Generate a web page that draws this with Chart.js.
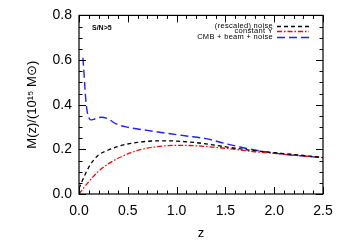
<!DOCTYPE html>
<html>
<head>
<meta charset="utf-8">
<script src="https://cdn.jsdelivr.net/npm/chart.js@4"></script>
<style>
  html, body { margin: 0; padding: 0; background: #fff; }
  #wrap { width: 350px; height: 250px; }
</style>
</head>
<body>
<div id="wrap"><canvas id="chart-mass" width="350" height="250"></canvas></div>
<script>
// redshift grid for the two lower curves
var zGrid = [0, 0.05, 0.1, 0.15, 0.2, 0.3, 0.4, 0.5, 0.6, 0.7, 0.8, 0.9, 1.0, 1.2, 1.4, 1.6, 1.8, 2.0, 2.2, 2.5];
var noiseMass  = [0.025, 0.075, 0.12, 0.152, 0.175, 0.197, 0.213, 0.224, 0.231, 0.236, 0.238, 0.238, 0.237, 0.230, 0.218, 0.205, 0.194, 0.185, 0.177, 0.163];
var constYMass = [0.0, 0.028, 0.055, 0.08, 0.102, 0.135, 0.16, 0.18, 0.195, 0.205, 0.212, 0.216, 0.218, 0.216, 0.209, 0.200, 0.189, 0.182, 0.174, 0.163];
// CMB + beam + noise curve starts a bit above z = 0
var cmbZ    = [0.04, 0.05, 0.06, 0.07, 0.085, 0.1, 0.12, 0.16, 0.23, 0.3, 0.38, 0.5, 0.7, 0.9, 1.1, 1.3, 1.5, 1.8, 2.1, 2.5];
var cmbMass = [0.61, 0.55, 0.48, 0.42, 0.366, 0.343, 0.332, 0.336, 0.344, 0.336, 0.314, 0.299, 0.285, 0.272, 0.26, 0.248, 0.226, 0.197, 0.178, 0.163];

var xTicks = [0, 0.5, 1.0, 1.5, 2.0, 2.5];
var yTicks = [0, 0.2, 0.4, 0.6, 0.8];
var legendLabels = ['(rescaled) noise', 'constant Y', 'CMB + beam + noise'];
var noteText = 'S/N>5';

function pts(xs, ys) {
  return xs.map(function(x, i) { return { x: x, y: ys[i] }; });
}

var FONT = '"Liberation Sans", Arial, Helvetica, sans-serif';

// ticks inside on all four sides, plus the frame
var framePlugin = {
  id: 'frame',
  afterDraw: function(chart) {
    var ctx = chart.ctx, a = chart.chartArea;
    var xs = chart.scales.x, ys = chart.scales.y;
    ctx.save();
    ctx.strokeStyle = '#000';
    ctx.lineWidth = 1.2;
    ctx.strokeRect(a.left, a.top, a.right - a.left, a.bottom - a.top);
    ctx.lineWidth = 1;
    ctx.beginPath();
    var v, p, len;
    for (var i = 0; i <= 25; i++) {
      v = i * 0.1;
      p = Math.round(xs.getPixelForValue(v)) + 0.5;
      len = (i % 5 === 0) ? 7 : 3.5;
      ctx.moveTo(p, a.bottom); ctx.lineTo(p, a.bottom - len);
      ctx.moveTo(p, a.top); ctx.lineTo(p, a.top + len);
    }
    for (var j = 0; j <= 16; j++) {
      v = j * 0.05;
      p = Math.round(ys.getPixelForValue(v)) + 0.5;
      len = (j % 4 === 0) ? 7 : 3.5;
      ctx.moveTo(a.left, p); ctx.lineTo(a.left + len, p);
      ctx.moveTo(a.right, p); ctx.lineTo(a.right - len, p);
    }
    ctx.stroke();

    // note
    ctx.fillStyle = '#000';
    ctx.font = 'bold 7px ' + FONT;
    ctx.textBaseline = 'middle';
    ctx.textAlign = 'left';
    ctx.fillText(noteText, a.left + 13, 28);

    // legend: text then line sample
    var ds = chart.data.datasets;
    var rowY = [25.7, 31, 36.6];
    ctx.font = '7.5px ' + FONT;
    ctx.letterSpacing = '0.3px';
    ctx.textAlign = 'right';
    for (var k = 0; k < ds.length; k++) {
      ctx.fillStyle = '#000';
      ctx.fillText(legendLabels[k], 273, rowY[k]);
      ctx.beginPath();
      ctx.strokeStyle = ds[k].borderColor;
      ctx.lineWidth = ds[k].borderWidth;
      ctx.setLineDash(ds[k].borderDash);
      ctx.moveTo(277, Math.round(rowY[k]) + 0.5); ctx.lineTo(309, Math.round(rowY[k]) + 0.5);
      ctx.stroke();
      ctx.setLineDash([]);
    }
    ctx.restore();
  }
};

var massChart = new Chart(document.getElementById('chart-mass').getContext('2d'), {
  type: 'line',
  data: {
    datasets: [{
      label: legendLabels[0],
      data: pts(zGrid, noiseMass),
      borderColor: '#000000',
      borderWidth: 1.3,
      borderDash: [4, 3]
    }, {
      label: legendLabels[1],
      data: pts(zGrid, constYMass),
      borderColor: '#ff0000',
      borderWidth: 1.3,
      borderDash: [5, 2, 1.5, 2]
    }, {
      label: legendLabels[2],
      data: pts(cmbZ, cmbMass),
      borderColor: '#2020ff',
      borderWidth: 1.4,
      borderDash: [8, 4]
    }]
  },
  options: {
    responsive: false,
    maintainAspectRatio: false,
    animation: false,
    devicePixelRatio: 1,
    layout: { padding: { top: 14, right: 27, left: 0, bottom: 0 } },
    elements: {
      point: { radius: 0 },
      line: { cubicInterpolationMode: 'monotone', fill: false }
    },
    plugins: { legend: { display: false }, tooltip: { enabled: false } },
    scales: {
      x: {
        type: 'linear',
        min: 0, max: 2.5,
        afterFit: function(s) { s.height = 56; },
        afterBuildTicks: function(s) { s.ticks = xTicks.map(function(v) { return { value: v }; }); },
        grid: { display: false, drawTicks: false },
        border: { display: false },
        ticks: {
          padding: 9,
          color: '#000',
          font: { family: FONT, size: 14 },
          maxRotation: 0,
          callback: function(v) { return v.toFixed(1); }
        },
        title: {
          display: true, text: 'z', color: '#000',
          font: { family: FONT, size: 13 },
          padding: { bottom: 9, top: 0 }
        }
      },
      y: {
        type: 'linear',
        min: 0, max: 0.8,
        afterFit: function(s) { s.width = 79; },
        afterBuildTicks: function(s) { s.ticks = yTicks.map(function(v) { return { value: v }; }); },
        grid: { display: false, drawTicks: false },
        border: { display: false },
        ticks: {
          padding: 7,
          color: '#000',
          font: { family: FONT, size: 14 },
          callback: function(v) { return v.toFixed(1); }
        },
        title: {
          display: true, text: 'M(z)/(10\u00b9\u2075 M\u2299)', color: '#000',
          font: { family: FONT, size: 13 },
          padding: { top: 25, bottom: 0 }
        }
      }
    }
  },
  plugins: [framePlugin]
});
</script>
</body>
</html>
